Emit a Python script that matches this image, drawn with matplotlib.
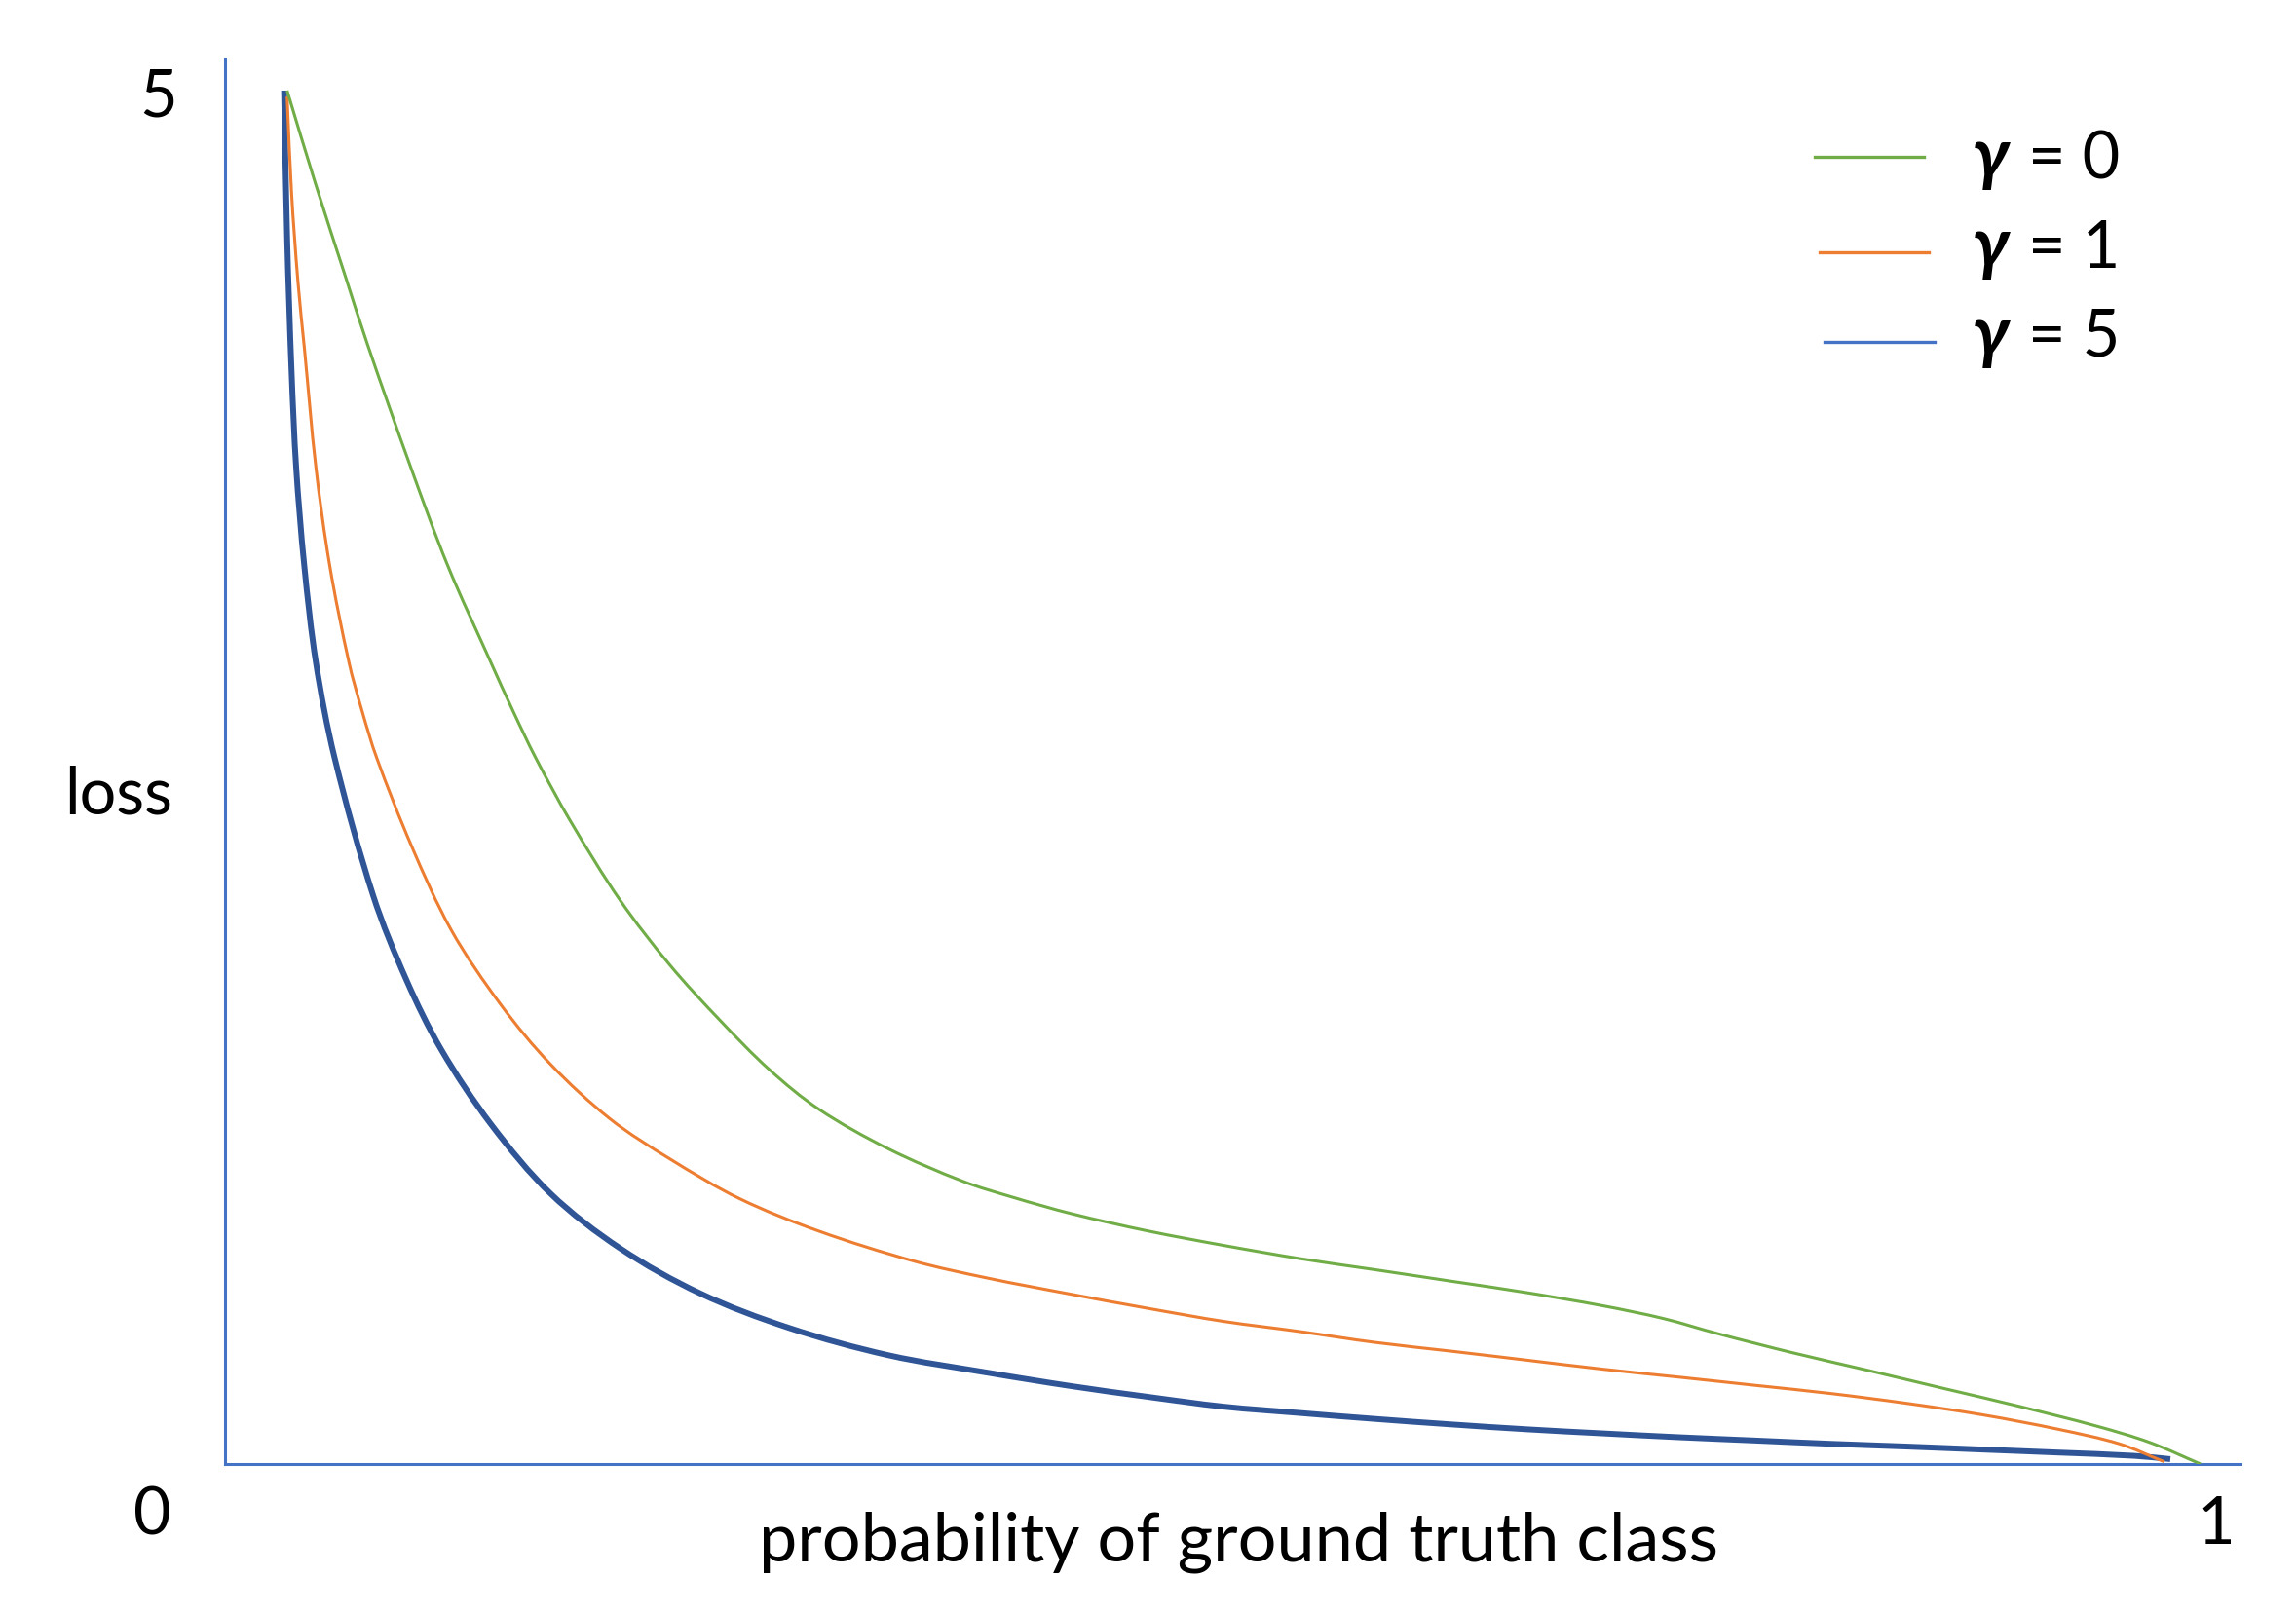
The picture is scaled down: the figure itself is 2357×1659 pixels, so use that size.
import matplotlib
matplotlib.use("Agg")
import matplotlib.pyplot as plt
from matplotlib.lines import Line2D
from matplotlib.path import Path
from matplotlib.patches import PathPatch
import numpy as np

plt.rcParams['font.family'] = ['Lato', 'Noto Sans', 'DejaVu Sans']

# ---- data ----
green_x = [0.0308, 0.0449, 0.0599, 0.0707, 0.0922, 0.1104, 0.1319, 0.1429, 0.1542,
           0.1714, 0.1961, 0.2208, 0.2454, 0.2701, 0.2947, 0.3292, 0.3663, 0.3909, 0.4200,
           0.4577, 0.4954, 0.5330, 0.5707, 0.6084, 0.6460, 0.6837, 0.7139, 0.7402, 0.7779,
           0.8156, 0.8531, 0.8908, 0.9285, 0.9550, 0.9802]
green_y = [5.025, 4.684, 4.341, 4.096, 3.646, 3.289, 2.933, 2.755, 2.583,
           2.352, 2.062, 1.825, 1.625, 1.443, 1.298, 1.153, 1.034, 0.976, 0.916,
           0.853, 0.800, 0.752, 0.711, 0.669, 0.627, 0.579, 0.532, 0.478, 0.407,
           0.342, 0.276, 0.210, 0.139, 0.079, 0.0]

orange_x = [0.0308, 0.0330, 0.0362, 0.0394, 0.0451, 0.0519, 0.0615, 0.0680, 0.0753,
            0.0925, 0.1123, 0.1369, 0.1616, 0.1912, 0.2208, 0.2553, 0.2947, 0.3416, 0.3786,
            0.4200, 0.4577, 0.4954, 0.5330, 0.5707, 0.6084, 0.6460, 0.6837, 0.7214, 0.7591,
            0.7967, 0.8344, 0.8721, 0.9097, 0.9399, 0.9623]
orange_y = [5.003, 4.652, 4.324, 4.081, 3.646, 3.289, 2.933, 2.755, 2.583,
            2.262, 1.953, 1.680, 1.462, 1.262, 1.116, 0.971, 0.852, 0.743, 0.680,
            0.621, 0.570, 0.522, 0.485, 0.445, 0.413, 0.380, 0.347, 0.318, 0.288,
            0.258, 0.222, 0.180, 0.127, 0.074, 0.008]

blue_x = [0.0293, 0.0308, 0.0330, 0.0353, 0.0393, 0.0451, 0.0544, 0.0735, 0.0900,
          0.1073, 0.1320, 0.1616, 0.1961, 0.2356, 0.2799, 0.3292, 0.3786, 0.4200, 0.4577,
          0.4954, 0.5330, 0.5707, 0.6084, 0.6460, 0.6837, 0.7214, 0.7591, 0.7967, 0.8344,
          0.8721, 0.9097, 0.9473, 0.9652]
blue_y = [5.025, 4.488, 3.999, 3.646, 3.289, 2.933, 2.583, 2.080, 1.771,
          1.516, 1.243, 0.989, 0.789, 0.625, 0.498, 0.398, 0.334, 0.285, 0.246,
          0.210, 0.187, 0.165, 0.145, 0.127, 0.112, 0.098, 0.086, 0.074, 0.064,
          0.053, 0.042, 0.030, 0.018]

gammas = ['0', '1', '5']
x_label = 'probability of ground truth class'
y_label = 'loss'
x_tick_labels = ['0', '1']
y_tick_label = '5'

GREEN = '#70AD47'
ORANGE = '#ED7D31'
DARKBLUE = '#2F5597'
AXBLUE = '#4472C4'


def smooth_path(ax, xs, ys):
    """Smoothed line through the points (chord-length Catmull-Rom Bezier, like a
    spreadsheet 'smoothed line'), built in screen space and returned in data space."""
    P = ax.transData.transform(np.column_stack([xs, ys]).astype(float))
    n = len(P)
    d = np.hypot(*np.diff(P, axis=0).T)
    m = np.zeros_like(P)
    m[0] = (P[1] - P[0]) / d[0]
    m[-1] = (P[-1] - P[-2]) / d[-1]
    for i in range(1, n - 1):
        m[i] = (P[i + 1] - P[i - 1]) / (d[i - 1] + d[i])
    verts = [P[0]]
    codes = [Path.MOVETO]
    for i in range(n - 1):
        verts += [P[i] + m[i] * d[i] / 3.0, P[i + 1] - m[i + 1] * d[i] / 3.0, P[i + 1]]
        codes += [Path.CURVE4] * 3
    verts = ax.transData.inverted().transform(np.array(verts))
    return Path(verts, codes)


W, H = 2357, 1659
fig = plt.figure(figsize=(W / 100, H / 100), dpi=100)
ax = fig.add_axes([231 / W, (H - 1503) / H, (2300 - 231) / W, (1503 - 61) / H])
ax.set_xlim(0, 1)
ax.set_ylim(0, 5.139)

for xs, ys, c, lw, z in [(blue_x, blue_y, DARKBLUE, 4.3, 2),
                         (orange_x, orange_y, ORANGE, 2.2, 3),
                         (green_x, green_y, GREEN, 2.2, 3)]:
    ax.add_patch(PathPatch(smooth_path(ax, xs, ys), facecolor='none', edgecolor=c,
                           lw=lw, joinstyle='round', capstyle='butt', zorder=z))

for s in ['top', 'right']:
    ax.spines[s].set_visible(False)
for s in ['left', 'bottom']:
    ax.spines[s].set_color(AXBLUE)
    ax.spines[s].set_linewidth(2.2)
ax.set_xticks([])
ax.set_yticks([])
ax.patch.set_alpha(0)

fs = 48
ax.text(-0.036, -0.19, x_tick_labels[0], fontsize=fs, ha='center', va='center', clip_on=False)
ax.text(0.988, -0.225, x_tick_labels[1], fontsize=fs, ha='center', va='center', clip_on=False)
ax.text(-0.033, 5.0, y_tick_label, fontsize=fs, ha='center', va='center', clip_on=False)
ax.text(-0.053, 2.445, y_label, fontsize=fs, ha='center', va='center', clip_on=False)
ax.text(0.503, -0.353, x_label, fontsize=50.5, ha='center', va='baseline', clip_on=False)

# ---- legend (manual) ----
leg_colors = [GREEN, ORANGE, AXBLUE]
leg_line_x = [(1863, 1975), (1868, 1980), (1873, 1986)]
leg_line_y = [161, 259, 351]
leg_base_y = [183, 275, 366]
for c, (x0, x1), ly, by, g in zip(leg_colors, leg_line_x, leg_line_y, leg_base_y, gammas):
    fig.add_artist(Line2D([x0 / W, x1 / W], [1 - ly / H, 1 - ly / H],
                          color=c, lw=2.4, transform=fig.transFigure))
    fig.text(2025 / W, 1 - by / H, 'γ', fontsize=52, fontweight='bold', fontstyle='italic',
             ha='left', va='baseline')
    fig.text(2082 / W, 1 - by / H, '= ' + g, fontsize=fs, ha='left', va='baseline')

fig.savefig('out.png', dpi=100, facecolor='white')
